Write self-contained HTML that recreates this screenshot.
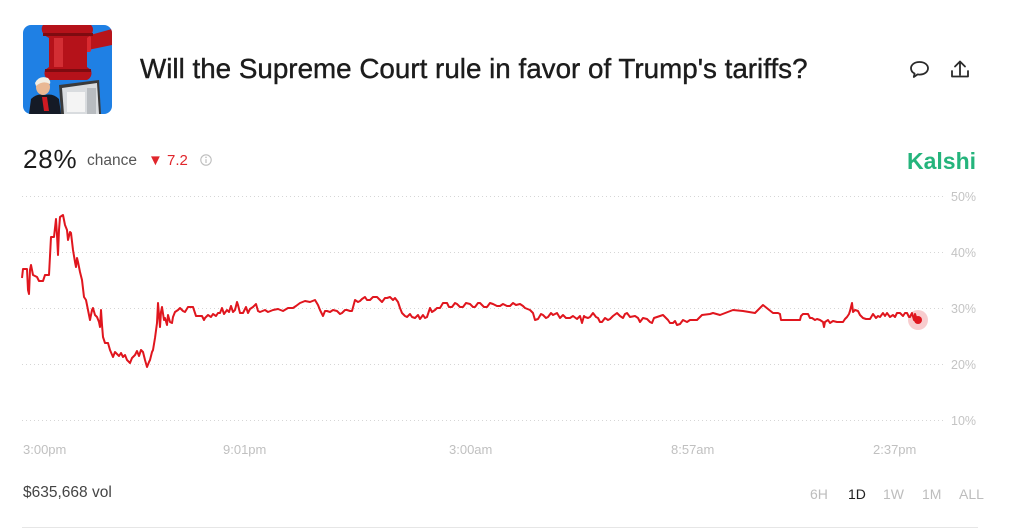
<!DOCTYPE html>
<html>
<head>
<meta charset="utf-8">
<style>
  html,body{margin:0;padding:0;background:#fff;}
  body{width:1024px;height:528px;position:relative;overflow:hidden;font-family:"Liberation Sans",Arial,sans-serif;}
  .abs{position:absolute;white-space:nowrap;}
  .title{left:140px;top:52px;font-size:27.8px;color:#1c1c1c;-webkit-text-stroke:0.4px #1c1c1c;line-height:34px;}
  .pct{left:23px;top:144px;font-size:26px;color:#1c1c1c;line-height:30px;letter-spacing:0.8px;}
  .chance{left:87px;top:151px;font-size:15.5px;color:#555;line-height:20px;}
  .delta{left:148px;top:151px;font-size:15px;color:#e0262c;line-height:20px;}
  .kalshi{left:907px;top:147px;font-size:23px;font-weight:bold;color:#25b47c;line-height:28px;}
  .vol{left:23px;top:483px;font-size:15.5px;color:#444;line-height:20px;}
  .tf{top:485px;font-size:14px;color:#bdbdbd;line-height:18px;}
</style>
</head>
<body>

<!-- thumbnail -->
<svg class="abs" style="left:23px;top:25px" width="89" height="89" viewBox="0 0 89 89">
  <defs><clipPath id="rc"><rect x="0" y="0" width="89" height="89" rx="8" ry="8"/></clipPath></defs>
  <g clip-path="url(#rc)">
    <rect width="89" height="89" fill="#1f80e4"/>
    <!-- gavel handle -->
    <polygon points="60,12 89,4 89,20 60,26" fill="#b8141a"/>
    <rect x="62" y="11" width="6" height="16" rx="2" fill="#d92a30"/>
    <!-- gavel head -->
    <path d="M20,0 L68,0 Q72,4 68,10 L64,13 L64,42 L68,45 Q70,52 64,55 L26,55 Q20,52 22,45 L26,42 L26,13 L21,10 Q17,4 20,0 Z" fill="#b5121a"/>
    <rect x="31" y="13" width="9" height="29" fill="#d8343a" opacity="0.85"/>
    <rect x="22" y="44" width="46" height="3" fill="#7e0b10"/>
    <rect x="20" y="8" width="50" height="3" fill="#7e0b10"/>
    <!-- document -->
    <polygon points="36,60 76,55 78,89 38,89" fill="#3a3a3a"/>
    <polygon points="39,63 74,58 76,89 41,89" fill="#d9dcdf"/>
    <rect x="44" y="67" width="18" height="20" fill="#f4f4f4"/>
    <rect x="64" y="63" width="9" height="26" fill="#b8bcc0"/>
    <!-- person -->
    <path d="M6,89 L8,74 Q14,68 22,70 Q30,68 36,74 L38,89 Z" fill="#151a26"/>
    <polygon points="19,72 24,72 26,86 21,86" fill="#d01a22"/>
    <ellipse cx="20" cy="62" rx="7" ry="8" fill="#e9b894"/>
    <path d="M12,58 Q16,50 25,53 Q28,56 27,59 Q20,55 13,61 Z" fill="#f2efe6"/>
  </g>
</svg>

<div class="abs title">Will the Supreme Court rule in favor of Trump's tariffs?</div>

<!-- comment icon -->
<svg class="abs" style="left:907px;top:58px" width="26" height="24" viewBox="0 0 26 24">
  <path d="M12.5,4 C7.5,4 4,6.8 4,10.3 C4,12.6 5.4,14.5 7.6,15.6 L6.8,19 L10.6,16.4 C11.2,16.5 11.9,16.6 12.5,16.6 C17.5,16.6 21,13.8 21,10.3 C21,6.8 17.5,4 12.5,4 Z" fill="none" stroke="#2a2a2a" stroke-width="1.8" stroke-linejoin="round"/>
</svg>
<!-- share icon -->
<svg class="abs" style="left:948px;top:58px" width="24" height="24" viewBox="0 0 24 24">
  <path d="M12,17 L12,4 M7,8.5 L12,3.5 L17,8.5" fill="none" stroke="#2a2a2a" stroke-width="1.8" stroke-linecap="round" stroke-linejoin="round"/>
  <path d="M4,13 L4,18.5 L20,18.5 L20,13" fill="none" stroke="#2a2a2a" stroke-width="1.8" stroke-linecap="round" stroke-linejoin="round"/>
</svg>

<div class="abs pct">28%</div>
<div class="abs chance">chance</div>
<div class="abs delta">▼ 7.2</div>
<svg class="abs" style="left:199px;top:153px" width="14" height="14" viewBox="0 0 14 14">
  <circle cx="7" cy="7" r="5.2" fill="none" stroke="#bdbdbd" stroke-width="1.1"/>
  <line x1="7" y1="6.2" x2="7" y2="10" stroke="#bdbdbd" stroke-width="1.2"/>
  <circle cx="7" cy="4.3" r="0.8" fill="#bdbdbd"/>
</svg>
<div class="abs kalshi">Kalshi</div>

<!-- chart -->
<svg class="abs" style="left:0;top:0" width="1024" height="528" viewBox="0 0 1024 528">
  <g stroke="#d6d6d6" stroke-width="1" stroke-dasharray="1 3">
    <line x1="22" y1="196.5" x2="946" y2="196.5"/>
    <line x1="22" y1="252.5" x2="946" y2="252.5"/>
    <line x1="22" y1="308.5" x2="946" y2="308.5"/>
    <line x1="22" y1="364.5" x2="946" y2="364.5"/>
    <line x1="22" y1="420.5" x2="946" y2="420.5"/>
  </g>
  <g font-family="Liberation Sans, Arial, sans-serif" font-size="12.5" fill="#c4c4c4">
    <text x="951" y="201">50%</text>
    <text x="951" y="257">40%</text>
    <text x="951" y="313">30%</text>
    <text x="951" y="369">20%</text>
    <text x="951" y="425">10%</text>
  </g>
  <g font-family="Liberation Sans, Arial, sans-serif" font-size="13" fill="#c0c0c0">
    <text x="23" y="454">3:00pm</text>
    <text x="223" y="454">9:01pm</text>
    <text x="449" y="454">3:00am</text>
    <text x="671" y="454">8:57am</text>
    <text x="873" y="454">2:37pm</text>
  </g>
  <polyline fill="none" stroke="#e0161e" stroke-width="2" stroke-linejoin="round" points="22,278 23,269 27,269 28,290 29,294 30,270 31,265 33,275 37,277 39,281 43,281 45,275 49,275 51,237 54,237 56,219 57,235 58,255 59,230 60,217 63,215 65,225 67,230 68,240 70,232 71,233 73,250 75,262 76,267 77,258 78,262 80,272 82,280 84,297 86,300 87,305 89,315 90,320 92,310 93,308 95,315 97,317 99,322 100,327 101,310 102,325 103,337 105,343 108,343 110,350 113,357 115,352 117,354 119,356 121,353 123,357 125,355 127,360 130,363 132,358 135,355 137,351 139,356 141,350 143,352 145,360 147,367 149,362 150,360 152,352 153,350 155,338 157,323 158,303 159,315 160,327 161,312 162,307 164,320 165,318 167,325 168,315 170,322 172,323 173,317 175,312 178,310 180,308 183,311 185,312 188,307 193,307 196,316 199,316 202,316 204,320 205,318 208,315 211,317 213,314 216,316 218,313 220,313 222,308 224,314 227,310 229,312 231,306 233,312 235,310 237,302 238,305 240,313 243,313 246,307 248,313 250,309 253,307 256,304 258,311 260,312 265,310 268,312 273,310 278,309 283,311 288,308 293,308 296,306 300,303 305,301 310,302 315,300 318,305 320,310 323,316 325,311 327,311 330,312 333,310 337,311 340,314 342,313 345,310 347,310 350,311 352,311 355,300 358,302 360,301 362,299 365,297 367,300 370,300 373,297 377,297 380,300 382,302 385,298 387,298 390,297 393,300 395,298 398,302 400,308 402,313 405,316 407,317 410,314 412,317 415,318 418,315 420,319 423,315 425,318 427,317 430,308 432,312 435,310 437,308 440,308 443,303 447,303 449,307 452,307 455,303 457,304 460,307 463,307 466,303 470,304 473,307 475,307 478,303 480,303 484,307 487,307 490,303 493,304 497,306 500,306 503,304 507,306 510,306 513,303 516,305 520,304 523,306 525,308 530,310 533,313 535,320 538,319 541,314 543,315 546,318 548,317 551,313 553,315 557,313 560,318 563,315 566,318 570,318 573,316 577,319 580,316 582,323 584,316 585,317 588,318 590,317 593,313 596,317 598,318 600,322 602,322 605,318 608,320 610,319 613,316 617,313 620,316 623,318 625,314 627,313 630,317 635,316 638,318 640,322 643,318 647,319 650,322 652,323 654,318 657,317 660,316 663,315 666,318 668,320 670,323 673,323 675,321 677,325 680,324 683,320 687,322 690,320 697,320 700,317 702,315 710,314 713,313 720,315 733,310 743,311 755,313 763,305 768,309 773,313 778,313 780,314 781,320 783,320 787,320 800,320 801,316 803,314 808,314 810,318 812,318 815,320 817,319 820,320 823,322 824,327 825,322 828,320 830,323 833,321 837,322 843,322 845,319 847,317 849,314 850,311 852,303 853,312 855,310 858,311 860,315 863,318 866,319 870,319 873,314 876,318 878,316 880,317 883,313 885,316 887,313 890,317 893,315 895,317 897,313 900,313 903,316 905,313 907,313 909,317 910,317 912,313 914,320 915,314 916,317 918,320"/>
  <circle cx="918" cy="320" r="10" fill="#e0161e" opacity="0.22"/>
  <circle cx="918" cy="320" r="4" fill="#e0161e"/>
  <line x1="22" y1="527.5" x2="978" y2="527.5" stroke="#e6e6e6" stroke-width="1"/>
</svg>

<div class="abs vol">$635,668 vol</div>
<div class="abs tf" style="left:810px;">6H</div>
<div class="abs tf" style="left:848px;color:#222;">1D</div>
<div class="abs tf" style="left:883px;">1W</div>
<div class="abs tf" style="left:922px;">1M</div>
<div class="abs tf" style="left:959px;">ALL</div>

</body>
</html>
